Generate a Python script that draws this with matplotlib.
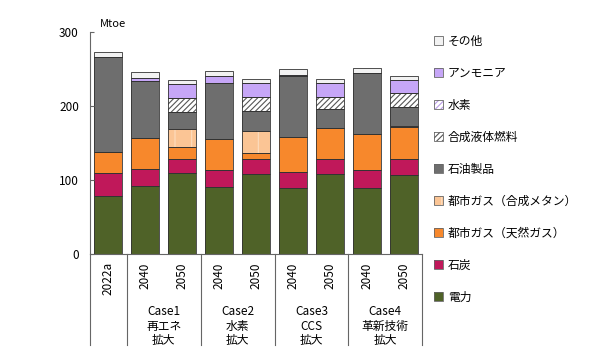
import matplotlib.pyplot as plt
import matplotlib.patches as mpatches
import matplotlib.transforms as mtransforms
from matplotlib.legend_handler import HandlerTuple
import numpy as np

plt.rcParams['font.family'] = ['Noto Sans CJK JP', 'DejaVu Sans']
plt.rcParams['hatch.linewidth'] = 0.8

years = ['2022a', '2040', '2050', '2040', '2050', '2040', '2050', '2040', '2050']
cases = ['Case1', 'Case2', 'Case3', 'Case4']
case_desc = ['再エネ', '水素', 'CCS', '革新技術']

# Mtoe, bottom to top
denryoku = [78, 92, 110, 91, 108.5, 90, 108.5, 90, 107.5]
sekitan = [32, 23, 18.5, 23, 20, 21.5, 19.5, 23.5, 20.5]
gas_tennen = [28, 42, 16.5, 41.5, 8.5, 47, 42.5, 48.5, 44]
gas_gousei = [0, 0, 23.5, 0, 29.5, 0, 0, 0, 1.5]
sekiyu = [128.5, 77, 23, 75.5, 26.5, 82, 25, 82, 25.5]
ekitai = [0, 0, 19.5, 0, 19.5, 0, 17, 0, 18]
suiso = [0, 0, 0, 0, 0, 0, 0, 0, 0]
ammonia = [0, 4.5, 18.5, 9, 19, 1.5, 18, 1, 18]
sonota = [6.5, 7, 5.5, 7, 5.5, 7.5, 6.5, 7, 6]

series = [
    ('電力', denryoku, '#4f6228', None, None),
    ('石炭', sekitan, '#c0185a', None, None),
    ('都市ガス（天然ガス）', gas_tennen, '#f7882c', None, None),
    ('都市ガス（合成メタン）', gas_gousei, '#fbc595', '|', '#fdddbf'),
    ('石油製品', sekiyu, '#6e6e6e', None, None),
    ('合成液体燃料', ekitai, '#ffffff', '//////', '#555555'),
    ('水素', suiso, '#ffffff', '//////', '#b99ae6'),
    ('アンモニア', ammonia, '#c6a6f7', None, None),
    ('その他', sonota, '#f2f2f2', None, None),
]

fig = plt.figure(figsize=(5.9, 3.52), dpi=100)
ax = fig.add_axes([0.1525, 0.278, 0.563, 0.631])

x = np.arange(len(years))
w = 0.76
bottom = np.zeros(len(years))
handles = []
for name, vals, col, hatch, hcol in series:
    vals = np.array(vals, dtype=float)
    if hatch:
        ax.bar(x, vals, w, bottom=bottom, color=col, edgecolor=hcol,
               hatch=hatch, linewidth=0)
    else:
        ax.bar(x, vals, w, bottom=bottom, color=col, linewidth=0)
    ax.bar(x, vals, w, bottom=bottom, fill=False, edgecolor='#333333',
           linewidth=0.6)
    bottom += vals
    outline = mpatches.Patch(fill=False, edgecolor='#666666', linewidth=0.6)
    if hatch:
        inner = mpatches.Patch(facecolor=col, edgecolor=hcol, hatch=hatch,
                               linewidth=0)
    else:
        inner = mpatches.Patch(facecolor=col, linewidth=0)
    handles.append(((inner, outline), name))

ax.set_xlim(-0.5, len(years) - 0.5)
ax.set_ylim(0, 300)
ax.set_yticks([0, 100, 200, 300])
ax.tick_params(axis='y', direction='in', length=3, width=0.8,
               labelsize=8.5, pad=8, color='#666666')
ax.set_xticks([])
for s in ['top', 'right']:
    ax.spines[s].set_visible(False)
ax.spines['left'].set_color('#666666')
ax.spines['bottom'].set_color('#666666')
ax.spines['left'].set_linewidth(0.8)
ax.spines['bottom'].set_linewidth(0.8)

ax.text(0.03, 1.036, 'Mtoe', transform=ax.transAxes, fontsize=8,
        va='center', ha='left')

# category axis below
trans = mtransforms.blended_transform_factory(ax.transData, ax.transAxes)
for sep in [-0.5, 0.5, 2.5, 4.5, 6.5, 8.5]:
    ax.plot([sep, sep], [0, -0.41], transform=trans, color='#666666',
            linewidth=0.8, clip_on=False)
for xi, yr in zip(x, years):
    ax.text(xi, -0.036, yr, transform=trans, rotation=90, ha='center',
            va='top', fontsize=8.5)
for i, (c, d) in enumerate(zip(cases, case_desc)):
    cx = 1.5 + 2 * i
    ax.text(cx, -0.256, c, transform=trans, ha='center', va='center', fontsize=8.5)
    ax.text(cx, -0.325, d, transform=trans, ha='center', va='center', fontsize=8.5)
    ax.text(cx, -0.388, '拡大', transform=trans, ha='center', va='center', fontsize=8.5)

hs = [h for h, _ in handles][::-1]
ls = [l for _, l in handles][::-1]
fig.legend(hs, ls, loc='upper left', handler_map={tuple: HandlerTuple(ndivide=1)},
           bbox_to_anchor=(0.728, 0.915), frameon=False, fontsize=8.5,
           handlelength=0.75, handleheight=0.75, handletextpad=0.4,
           labelspacing=1.61, borderaxespad=0)

fig.savefig('out.png', dpi=100, facecolor='white')
